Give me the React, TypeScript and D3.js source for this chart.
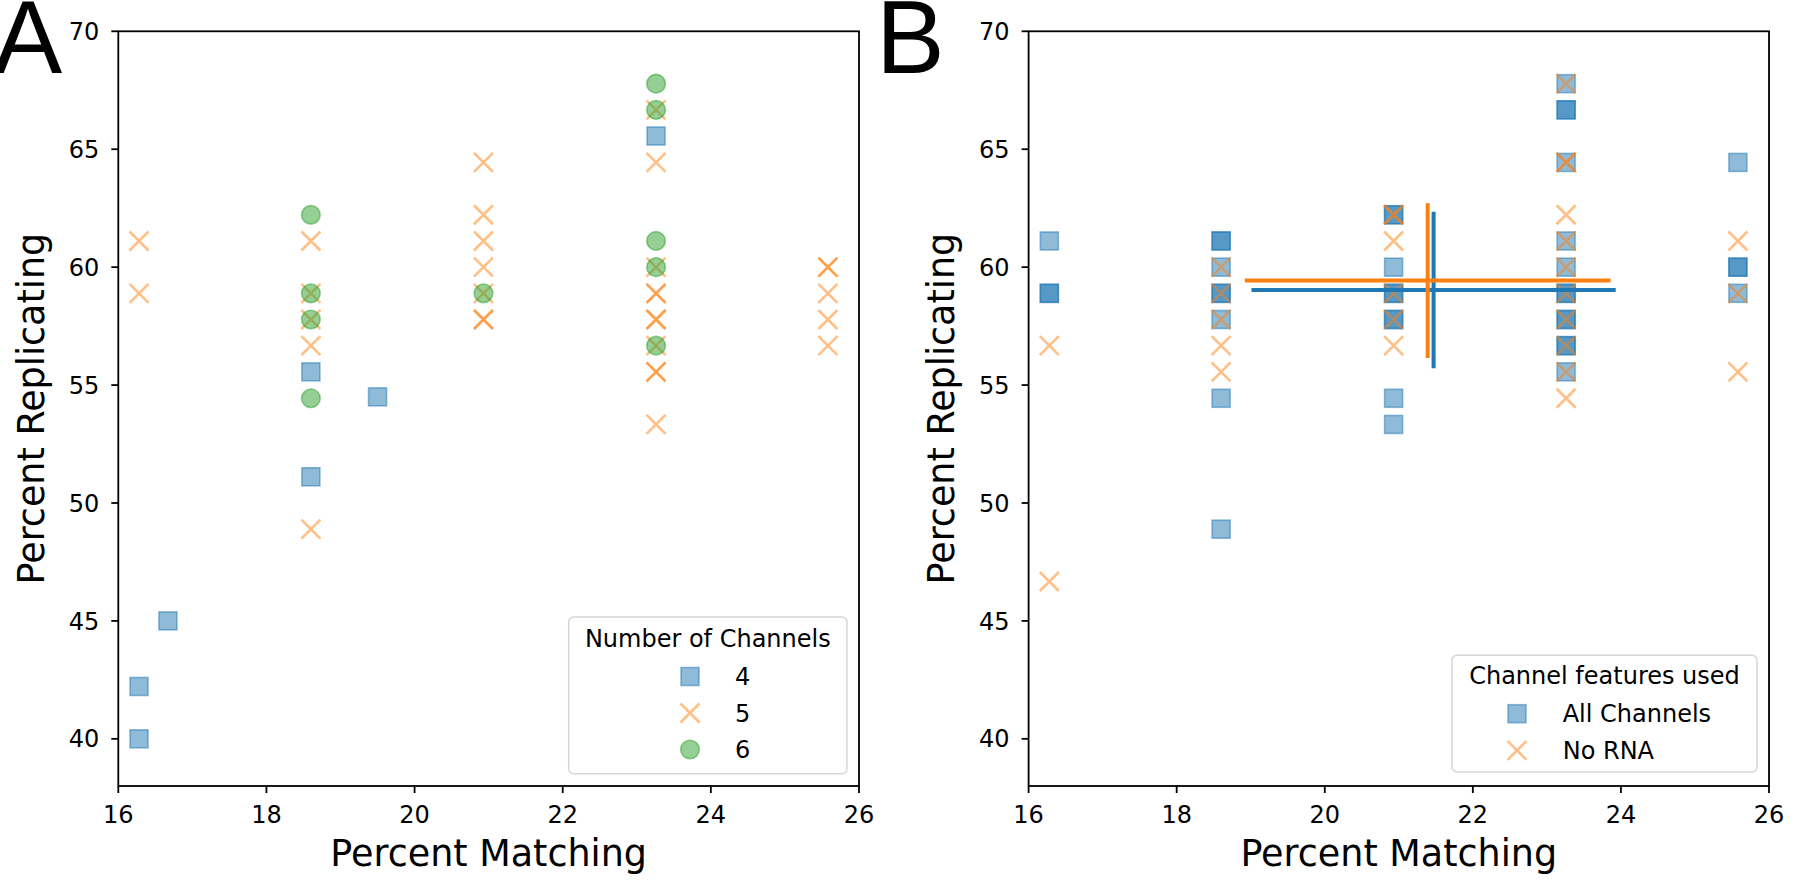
import React from "react";
import * as d3 from "d3";

// ---------- Panel A data: Number of Channels ----------
const aCh4X = [16.28, 16.28, 16.67, 18.6, 18.6, 19.5, 23.26];
const aCh4Y = [40.0, 42.22, 45.0, 51.11, 55.56, 54.5, 65.56];

const aCh5X = [
  16.28, 16.28,
  18.6, 18.6, 18.6, 18.6, 18.6,
  20.93, 20.93, 20.93, 20.93, 20.93, 20.93, 20.93,
  23.26, 23.26, 23.26, 23.26, 23.26, 23.26, 23.26, 23.26, 23.26, 23.26, 23.26,
  25.58, 25.58, 25.58, 25.58, 25.58,
];
const aCh5Y = [
  61.11, 58.89,
  61.11, 58.89, 57.78, 56.67, 48.89,
  64.44, 62.22, 61.11, 60.0, 58.89, 57.78, 57.78,
  66.67, 64.44, 60.0, 58.89, 58.89, 57.78, 57.78, 56.67, 55.56, 55.56, 53.33,
  60.0, 60.0, 58.89, 57.78, 56.67,
];

const aCh6X = [18.6, 18.6, 18.6, 18.6, 20.93, 23.26, 23.26, 23.26, 23.26, 23.26];
const aCh6Y = [62.22, 58.89, 57.78, 54.44, 58.89, 67.78, 66.67, 61.11, 60.0, 56.67];

// ---------- Panel B data: Channel features used ----------
const bAllX = [
  16.28, 16.28, 16.28,
  18.6, 18.6, 18.6, 18.6, 18.6, 18.6, 18.6, 18.6,
  20.93, 20.93, 20.93, 20.93, 20.93, 20.93, 20.93, 20.93, 20.93,
  23.26, 23.26, 23.26, 23.26, 23.26, 23.26, 23.26, 23.26, 23.26, 23.26, 23.26, 23.26, 23.26,
  25.58, 25.58, 25.58, 25.58,
];
const bAllY = [
  61.11, 58.89, 58.89,
  61.11, 61.11, 60.0, 58.89, 58.89, 57.78, 54.44, 48.89,
  62.22, 62.22, 60.0, 58.89, 58.89, 57.78, 57.78, 54.44, 53.33,
  67.78, 66.67, 66.67, 64.44, 61.11, 60.0, 58.89, 58.89, 57.78, 57.78, 56.67, 56.67, 55.56,
  64.44, 60.0, 60.0, 58.89,
];

const bNoRnaX = [
  16.28, 16.28,
  18.6, 18.6, 18.6, 18.6, 18.6,
  20.93, 20.93, 20.93, 20.93, 20.93, 20.93,
  23.26, 23.26, 23.26, 23.26, 23.26, 23.26, 23.26, 23.26, 23.26, 23.26, 23.26,
  25.58, 25.58, 25.58,
];
const bNoRnaY = [
  56.67, 46.67,
  60.0, 58.89, 57.78, 56.67, 55.56,
  62.22, 62.22, 61.11, 58.89, 57.78, 56.67,
  67.78, 64.44, 64.44, 62.22, 61.11, 60.0, 58.89, 57.78, 56.67, 55.56, 54.44,
  61.11, 58.89, 55.56,
];

// mean +/- sd crosshairs (All Channels, No RNA)
const summaryNames = ["All Channels", "No RNA"];
const summaryMeanX = [21.47, 21.39];
const summaryMeanY = [59.03, 59.43];
const summarySdX = [2.46, 2.47];
const summarySdY = [3.32, 3.28];

const xTicks = [16, 18, 20, 22, 24, 26];
const yTicks = [40, 45, 50, 55, 60, 65, 70];
const xDomain: [number, number] = [16, 26];
const yDomain: [number, number] = [38, 70];

const legendATitle = "Number of Channels";
const legendALabels = ["4", "5", "6"];
const legendBTitle = "Channel features used";
const legendBLabels = ["All Channels", "No RNA"];

const BLUE = "#1f77b4";
const ORANGE = "#ff7f0e";
const GREEN = "#2ca02c";
const FONT = "'DejaVu Sans', sans-serif";

const TOP = 39.3;
const BOTTOM = 794;

type Shape = "square" | "x" | "circle";

function Marker({ shape, cx, cy, color }: { shape: Shape; cx: number; cy: number; color: string }) {
  if (shape === "square") {
    const s = 18;
    return (
      <rect x={cx - s / 2} y={cy - s / 2} width={s} height={s} fill={color} fillOpacity={0.5}
        stroke={color} strokeOpacity={0.5} strokeWidth={1.6} />
    );
  }
  if (shape === "circle") {
    return <circle cx={cx} cy={cy} r={9.3} fill={color} fillOpacity={0.5} stroke={color} strokeOpacity={0.5} strokeWidth={1.6} />;
  }
  const h = 9.5;
  return (
    <path d={`M${cx - h},${cy - h}L${cx + h},${cy + h}M${cx - h},${cy + h}L${cx + h},${cy - h}`}
      stroke={color} strokeOpacity={0.5} strokeWidth={2.6} fill="none" />
  );
}

function Axes({ left, right, yLabel, xLabel }: { left: number; right: number; yLabel: string; xLabel: string }) {
  const x = d3.scaleLinear().domain(xDomain).range([left, right]);
  const y = d3.scaleLinear().domain(yDomain).range([BOTTOM, TOP]);
  return (
    <g>
      <rect x={left} y={TOP} width={right - left} height={BOTTOM - TOP} fill="none" stroke="#000" strokeWidth={1.8} />
      {xTicks.map((t) => (
        <g key={"x" + t}>
          <line x1={x(t)} x2={x(t)} y1={BOTTOM} y2={BOTTOM + 7} stroke="#000" strokeWidth={1.8} />
          <text x={x(t)} y={BOTTOM + 37} textAnchor="middle" fontSize={24} fontFamily={FONT} fill="#000">{t}</text>
        </g>
      ))}
      {yTicks.map((t) => (
        <g key={"y" + t}>
          <line x1={left - 7} x2={left} y1={y(t)} y2={y(t)} stroke="#000" strokeWidth={1.8} />
          <text x={left - 19} y={y(t)} dy="0.36em" textAnchor="end" fontSize={24} fontFamily={FONT} fill="#000">{t}</text>
        </g>
      ))}
      <text x={(left + right) / 2} y={874} textAnchor="middle" fontSize={36.5} fontFamily={FONT} fill="#000">{xLabel}</text>
      <text transform={`translate(${left - 74.6},${(TOP + BOTTOM) / 2}) rotate(-90)`} textAnchor="middle" fontSize={36.5} fontFamily={FONT} fill="#000">{yLabel}</text>
    </g>
  );
}

export default function App() {
  const aLeft = 126.3, aRight = 867;
  const bLeft = 1036.6, bRight = 1777;
  const xa = d3.scaleLinear().domain(xDomain).range([aLeft, aRight]);
  const xb = d3.scaleLinear().domain(xDomain).range([bLeft, bRight]);
  const y = d3.scaleLinear().domain(yDomain).range([BOTTOM, TOP]);

  const aSeries: { xs: number[]; ys: number[]; shape: Shape; color: string }[] = [
    { xs: aCh4X, ys: aCh4Y, shape: "square", color: BLUE },
    { xs: aCh5X, ys: aCh5Y, shape: "x", color: ORANGE },
    { xs: aCh6X, ys: aCh6Y, shape: "circle", color: GREEN },
  ];
  const bSeries: { xs: number[]; ys: number[]; shape: Shape; color: string }[] = [
    { xs: bAllX, ys: bAllY, shape: "square", color: BLUE },
    { xs: bNoRnaX, ys: bNoRnaY, shape: "x", color: ORANGE },
  ];
  const summaryColors = [BLUE, ORANGE];

  return (
    <div style={{ margin: -8 }}>
      <style>{`body{margin:0}`}</style>
      <svg width={1800} height={896} style={{ display: "block", background: "#fff" }}>
        {/* Panel A */}
        <Axes left={aLeft} right={aRight} xLabel="Percent Matching" yLabel="Percent Replicating" />
        {aSeries.map((s, si) => (
          <g key={"a" + si}>
            {s.xs.map((v, i) => (
              <Marker key={i} shape={s.shape} cx={xa(v)} cy={y(s.ys[i])} color={s.color} />
            ))}
          </g>
        ))}
        {/* Legend A */}
        <g>
          <rect x={576.7} y={625} width={278.3} height={156.7} rx={5} fill="#fff" fillOpacity={0.8} stroke="#d6d6d6" strokeWidth={1.5} />
          <text x={715.8} y={655} textAnchor="middle" fontSize={24} fontFamily={FONT} fill="#000">{legendATitle}</text>
          {legendALabels.map((l, i) => (
            <g key={l}>
              <Marker shape={aSeries[i].shape} cx={698} cy={684.5 + i * 36.5} color={aSeries[i].color} />
              <text x={743} y={684.5 + i * 36.5} dy="0.36em" fontSize={24} fontFamily={FONT} fill="#000">{l}</text>
            </g>
          ))}
        </g>
        <text x={1.5} y={80.7} fontSize={103} fontFamily="'Liberation Sans', Arial, sans-serif" fill="#000">A</text>

        {/* Panel B */}
        <Axes left={bLeft} right={bRight} xLabel="Percent Matching" yLabel="Percent Replicating" />
        {bSeries.map((s, si) => (
          <g key={"b" + si}>
            {s.xs.map((v, i) => (
              <Marker key={i} shape={s.shape} cx={xb(v)} cy={y(s.ys[i])} color={s.color} />
            ))}
          </g>
        ))}
        {summaryNames.map((n, i) => (
          <g key={n}>
            <line x1={xb(summaryMeanX[i] - summarySdX[i])} x2={xb(summaryMeanX[i] + summarySdX[i])}
              y1={y(summaryMeanY[i])} y2={y(summaryMeanY[i])} stroke={summaryColors[i]} strokeWidth={4} />
            <line x1={xb(summaryMeanX[i])} x2={xb(summaryMeanX[i])}
              y1={y(summaryMeanY[i] - summarySdY[i])} y2={y(summaryMeanY[i] + summarySdY[i])} stroke={summaryColors[i]} strokeWidth={4} />
          </g>
        ))}
        {/* Legend B */}
        <g>
          <rect x={1460} y={663.3} width={305} height={116.7} rx={5} fill="#fff" fillOpacity={0.8} stroke="#d6d6d6" strokeWidth={1.5} />
          <text x={1612.5} y={691.7} textAnchor="middle" fontSize={24} fontFamily={FONT} fill="#000">{legendBTitle}</text>
          {legendBLabels.map((l, i) => (
            <g key={l}>
              <Marker shape={bSeries[i].shape} cx={1525} cy={721.7 + i * 36.6} color={bSeries[i].color} />
              <text x={1570.7} y={721.7 + i * 36.6} dy="0.36em" fontSize={24} fontFamily={FONT} fill="#000">{l}</text>
            </g>
          ))}
        </g>
        <text x={884} y={80.7} fontSize={103} fontFamily="'Liberation Sans', Arial, sans-serif" fill="#000">B</text>
      </svg>
    </div>
  );
}
